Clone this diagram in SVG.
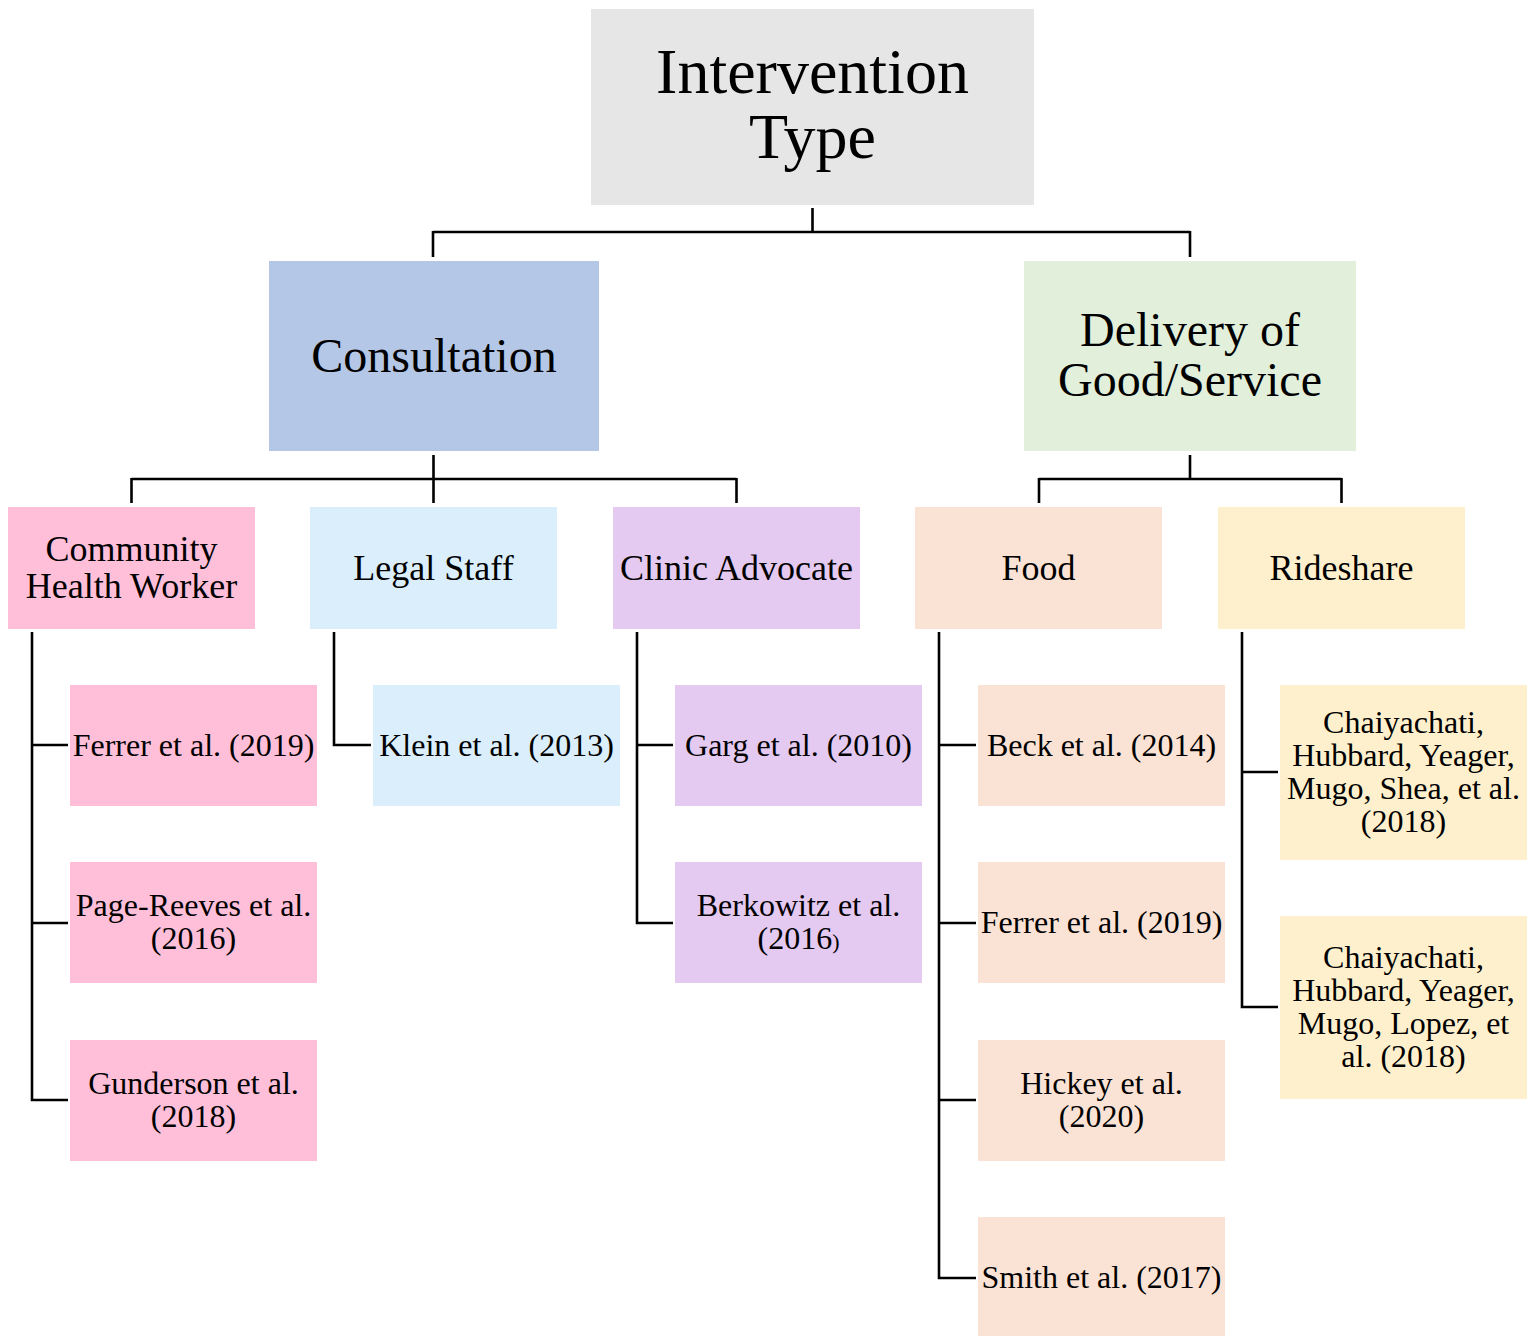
<svg xmlns="http://www.w3.org/2000/svg" width="1538" height="1336" viewBox="0 0 1538 1336">
<style>
text{font-family:"Liberation Serif","Times New Roman",serif;fill:#000;text-anchor:middle}
.t0{font-size:64px}.t1{font-size:48px}.t2{font-size:36px}.t3{font-size:32px}
.c{fill:none;stroke:#000;stroke-width:2.6}
</style>
<rect width="1538" height="1336" fill="#fff"/>
<g id="connectors">
<path class="c" d="M812.5 208V232M433 232H1190M433 231V257M1190 231V257"/>
<path class="c" d="M433.5 455V479M131.5 479H736.5M131.5 478V503M736.5 478V503M433.5 479V503"/>
<path class="c" d="M1190 455V479M1039 479H1341.5M1039 478V503M1341.5 478V503"/>
<path class="c" d="M32 632V1100H68M32 745H68M32 923H68"/>
<path class="c" d="M334 632V745H371"/>
<path class="c" d="M637 632V923H673M637 745H673"/>
<path class="c" d="M939 632V1278H976M939 745H976M939 923H976M939 1100H976"/>
<path class="c" d="M1242 632V1007H1278M1242 772H1278"/>
</g>
<g id="root"><rect x="591" y="9" width="443" height="196" fill="#e6e6e6"/><text class="t0" x="812.5" y="93">Intervention</text><text class="t0" x="812.5" y="158">Type</text></g>
<g id="consultation"><rect x="269" y="261" width="330" height="190" fill="#b4c7e7"/><text class="t1" x="434" y="372">Consultation</text></g>
<g id="delivery"><rect x="1024" y="261" width="332" height="190" fill="#e2efda"/><text class="t1" x="1190" y="346">Delivery of</text><text class="t1" x="1190" y="396">Good/Service</text></g>
<g id="chw"><rect x="8" y="507" width="247" height="122" fill="#ffbfd9"/><text class="t2" x="131.5" y="561">Community</text><text class="t2" x="131.5" y="598">Health Worker</text></g>
<g id="legal"><rect x="310" y="507" width="247" height="122" fill="#daeefc"/><text class="t2" x="433.5" y="580">Legal Staff</text></g>
<g id="clinic"><rect x="613" y="507" width="247" height="122" fill="#e4c9f1"/><text class="t2" x="736.5" y="580">Clinic Advocate</text></g>
<g id="food"><rect x="915" y="507" width="247" height="122" fill="#fae3d5"/><text class="t2" x="1038.5" y="580">Food</text></g>
<g id="rideshare"><rect x="1218" y="507" width="247" height="122" fill="#fff0cd"/><text class="t2" x="1341.5" y="580">Rideshare</text></g>
<g id="chw1"><rect x="70" y="685" width="247" height="121" fill="#ffbfd9"/><text class="t3" x="193.5" y="756">Ferrer et al. (2019)</text></g>
<g id="chw2"><rect x="70" y="862" width="247" height="121" fill="#ffbfd9"/><text class="t3" x="193.5" y="916">Page-Reeves et al.</text><text class="t3" x="193.5" y="949">(2016)</text></g>
<g id="chw3"><rect x="70" y="1040" width="247" height="121" fill="#ffbfd9"/><text class="t3" x="193.5" y="1094">Gunderson et al.</text><text class="t3" x="193.5" y="1127">(2018)</text></g>
<g id="legal1"><rect x="373" y="685" width="247" height="121" fill="#daeefc"/><text class="t3" x="496.5" y="756">Klein et al. (2013)</text></g>
<g id="clinic1"><rect x="675" y="685" width="247" height="121" fill="#e4c9f1"/><text class="t3" x="798.5" y="756">Garg et al. (2010)</text></g>
<g id="clinic2"><rect x="675" y="862" width="247" height="121" fill="#e4c9f1"/><text class="t3" x="798.5" y="916">Berkowitz et al.</text><text class="t3" x="798.5" y="949">(2016<tspan font-size="22">)</tspan></text></g>
<g id="food1"><rect x="978" y="685" width="247" height="121" fill="#fae3d5"/><text class="t3" x="1101.5" y="756">Beck et al. (2014)</text></g>
<g id="food2"><rect x="978" y="862" width="247" height="121" fill="#fae3d5"/><text class="t3" x="1101.5" y="933">Ferrer et al. (2019)</text></g>
<g id="food3"><rect x="978" y="1040" width="247" height="121" fill="#fae3d5"/><text class="t3" x="1101.5" y="1094">Hickey et al.</text><text class="t3" x="1101.5" y="1127">(2020)</text></g>
<g id="food4"><rect x="978" y="1217" width="247" height="119" fill="#fae3d5"/><text class="t3" x="1101.5" y="1288">Smith et al. (2017)</text></g>
<g id="ride1"><rect x="1280" y="685" width="247" height="175" fill="#fff0cd"/><text class="t3" x="1403.5" y="733">Chaiyachati,</text><text class="t3" x="1403.5" y="766">Hubbard, Yeager,</text><text class="t3" x="1403.5" y="799">Mugo, Shea, et al.</text><text class="t3" x="1403.5" y="832">(2018)</text></g>
<g id="ride2"><rect x="1280" y="916" width="247" height="183" fill="#fff0cd"/><text class="t3" x="1403.5" y="968">Chaiyachati,</text><text class="t3" x="1403.5" y="1001">Hubbard, Yeager,</text><text class="t3" x="1403.5" y="1034">Mugo, Lopez, et</text><text class="t3" x="1403.5" y="1067">al. (2018)</text></g>
</svg>
